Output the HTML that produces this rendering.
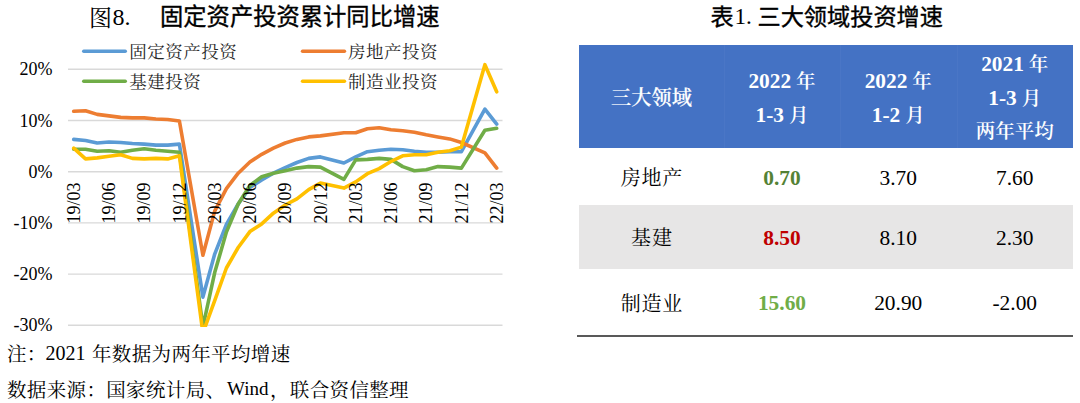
<!DOCTYPE html>
<html><head><meta charset="utf-8">
<style>
*{margin:0;padding:0;box-sizing:border-box}
html,body{width:1080px;height:403px;overflow:hidden;background:#fff}
body{position:relative;font-family:"Liberation Serif","Noto Serif CJK SC",serif;color:#000}
.a{position:absolute;white-space:nowrap}
#chart{position:absolute;left:0;top:0}
.hdr{position:absolute;left:579px;top:45px;width:494px;height:103px;background:#4472C4}
.vsep{position:absolute;top:0;width:1px;height:103px;background:#4A76C6}
.cell{position:absolute;display:flex;align-items:center;justify-content:center;text-align:center;white-space:nowrap}
.h{color:#fff;font-size:20.2px;line-height:34.5px;font-weight:600;-webkit-text-stroke:0.15px #fff}
.h b{font-family:"Liberation Serif",serif;font-weight:700;font-size:21.4px}
.hl{position:absolute;height:30px;line-height:30px;text-align:center;color:#fff;font-size:19.5px;font-weight:600;white-space:nowrap}
.hl b{font-family:"Liberation Serif",serif;font-weight:700;font-size:21.4px;-webkit-text-stroke:0}
.r{font-size:21.4px}
.r.c{font-size:20px;letter-spacing:0.8px;text-indent:0.8px}
.gray{position:absolute;left:579px;top:205px;width:494px;height:63.5px;background:#E7E6E6}
.rule{position:absolute;left:577px;top:335px;width:496px;height:2px;background:#595959}
</style></head><body>
<svg id="chart" width="1080" height="403" viewBox="0 0 1080 403">
<defs><clipPath id="pa"><rect x="60" y="0" width="450" height="327"/></clipPath></defs>
<g stroke="#D9D9D9" stroke-width="1.4"><line x1="68" x2="502.5" y1="69.3" y2="69.3"/><line x1="68" x2="502.5" y1="120.5" y2="120.5"/><line x1="68" x2="502.5" y1="171.7" y2="171.7"/><line x1="68" x2="502.5" y1="222.9" y2="222.9"/><line x1="68" x2="502.5" y1="274.1" y2="274.1"/><line x1="68" x2="502.5" y1="325.3" y2="325.3"/></g>
<g clip-path="url(#pa)" fill="none" stroke-width="3.6" stroke-linejoin="round" stroke-linecap="round"><polyline points="73.7,139.4 85.5,140.5 97.2,143.0 109.0,142.0 120.7,142.5 132.4,143.5 144.2,144.1 155.9,145.1 167.7,145.1 179.4,144.1 202.9,297.1 214.7,254.1 226.4,224.4 238.2,204.0 249.9,187.6 261.7,179.9 273.4,173.2 285.2,167.6 296.9,162.5 308.7,158.4 320.4,156.9 343.9,163.0 355.7,156.9 367.4,151.7 379.2,150.2 390.9,149.2 402.7,149.7 414.4,151.2 426.2,152.2 437.9,152.2 449.7,151.7 461.4,151.7 484.9,109.2 496.7,124.1" stroke="#5B9BD5"/><polyline points="73.7,111.3 85.5,110.8 97.2,114.4 109.0,115.9 120.7,117.4 132.4,117.9 144.2,117.9 155.9,119.0 167.7,119.5 179.4,121.0 202.9,255.2 214.7,211.1 226.4,188.6 238.2,173.2 249.9,162.0 261.7,154.3 273.4,148.1 285.2,143.0 296.9,139.4 308.7,136.9 320.4,135.9 343.9,132.8 355.7,132.8 367.4,128.7 379.2,127.7 390.9,129.7 402.7,130.7 414.4,132.3 426.2,134.8 437.9,136.9 449.7,138.9 461.4,142.5 484.9,152.8 496.7,168.1" stroke="#ED7D31"/><polyline points="73.7,149.2 85.5,149.2 97.2,151.2 109.0,150.7 120.7,152.2 132.4,150.2 144.2,148.7 155.9,150.2 167.7,151.2 179.4,152.2 202.9,326.8 214.7,272.6 226.4,232.1 238.2,204.0 249.9,185.5 261.7,176.8 273.4,173.2 285.2,170.7 296.9,168.1 308.7,166.6 320.4,167.1 343.9,179.4 355.7,159.9 367.4,159.4 379.2,158.4 390.9,159.4 402.7,166.6 414.4,170.7 426.2,169.7 437.9,166.6 449.7,167.1 461.4,168.1 484.9,130.2 496.7,128.2" stroke="#70AD47"/><polyline points="73.7,148.1 85.5,158.9 97.2,157.9 109.0,156.3 120.7,154.8 132.4,158.4 144.2,158.9 155.9,158.4 167.7,158.9 179.4,155.8 202.9,333.0 214.7,300.7 226.4,268.0 238.2,247.5 249.9,231.6 261.7,223.9 273.4,213.2 285.2,205.0 296.9,198.8 308.7,189.6 320.4,183.0 343.9,188.1 355.7,181.9 367.4,173.7 379.2,168.6 390.9,161.5 402.7,155.8 414.4,154.8 426.2,154.8 437.9,152.2 449.7,150.7 461.4,147.1 484.9,64.7 496.7,91.8" stroke="#FFC000"/></g>
<g font-family="Liberation Serif, serif" font-size="18" text-anchor="end" fill="#000"><text x="52.5" y="75.3">20%</text><text x="52.5" y="126.5">10%</text><text x="52.5" y="177.7">0%</text><text x="52.5" y="228.9">-10%</text><text x="52.5" y="280.1">-20%</text><text x="52.5" y="331.3">-30%</text></g>
<g font-family="Liberation Serif, serif" font-size="18" text-anchor="end" fill="#000"><text transform="translate(79.9,182.6) rotate(-90)">19/03</text><text transform="translate(115.2,182.6) rotate(-90)">19/06</text><text transform="translate(150.4,182.6) rotate(-90)">19/09</text><text transform="translate(185.6,182.6) rotate(-90)">19/12</text><text transform="translate(220.9,182.6) rotate(-90)">20/03</text><text transform="translate(256.1,182.6) rotate(-90)">20/06</text><text transform="translate(291.4,182.6) rotate(-90)">20/09</text><text transform="translate(326.6,182.6) rotate(-90)">20/12</text><text transform="translate(361.9,182.6) rotate(-90)">21/03</text><text transform="translate(397.1,182.6) rotate(-90)">21/06</text><text transform="translate(432.4,182.6) rotate(-90)">21/09</text><text transform="translate(467.6,182.6) rotate(-90)">21/12</text><text transform="translate(502.9,182.6) rotate(-90)">22/03</text></g>
<g stroke-width="3.4" stroke-linecap="round">
<line x1="83.7" x2="125.3" y1="51.2" y2="51.2" stroke="#5B9BD5"/>
<line x1="83.7" x2="125.3" y1="81.3" y2="81.3" stroke="#70AD47"/>
<line x1="302.5" x2="344.5" y1="51.2" y2="51.2" stroke="#ED7D31"/>
<line x1="302.5" x2="344.5" y1="81.3" y2="81.3" stroke="#FFC000"/>
</g>
</svg>
<div class="a" style="left:89px;top:6.5px;font-size:23px;line-height:23px;font-family:'Liberation Serif','Noto Serif CJK SC',serif;font-weight:400;color:#000;">图</div><div class="a" style="left:112.6px;top:5px;font-size:24px;line-height:24px;font-family:'Liberation Serif','Noto Serif CJK SC',serif;font-weight:400;color:#000;">8.</div><div class="a" style="left:160px;top:5.5px;font-size:23.3px;line-height:23.3px;font-family:'Liberation Sans','Noto Sans CJK SC',sans-serif;font-weight:400;color:#000;-webkit-text-stroke:0.35px #000;">固定资产投资累计同比增速</div><div class="a" style="left:129.2px;top:43.5px;font-size:17.5px;line-height:17.5px;font-family:'Liberation Serif','Noto Serif CJK SC',serif;font-weight:400;color:#262626;letter-spacing:0.5px;">固定资产投资</div><div class="a" style="left:129.2px;top:73.5px;font-size:17.5px;line-height:17.5px;font-family:'Liberation Serif','Noto Serif CJK SC',serif;font-weight:400;color:#262626;letter-spacing:0.5px;">基建投资</div><div class="a" style="left:348px;top:43.5px;font-size:17.5px;line-height:17.5px;font-family:'Liberation Serif','Noto Serif CJK SC',serif;font-weight:400;color:#262626;letter-spacing:0.5px;">房地产投资</div><div class="a" style="left:348px;top:73.5px;font-size:17.5px;line-height:17.5px;font-family:'Liberation Serif','Noto Serif CJK SC',serif;font-weight:400;color:#262626;letter-spacing:0.5px;">制造业投资</div><div class="a" style="left:7px;top:345px;font-size:19.5px;line-height:19.5px;font-family:'Liberation Serif','Noto Serif CJK SC',serif;font-weight:400;color:#000;letter-spacing:0.35px;">注：</div><div class="a" style="left:45.5px;top:343px;font-size:20px;line-height:20px;font-family:'Liberation Serif','Noto Serif CJK SC',serif;font-weight:400;color:#000;">2021</div><div class="a" style="left:92px;top:345px;font-size:19.5px;line-height:19.5px;font-family:'Liberation Serif','Noto Serif CJK SC',serif;font-weight:400;color:#000;letter-spacing:0.35px;">年数据为两年平均增速</div><div class="a" style="left:7px;top:380.5px;font-size:19.5px;line-height:19.5px;font-family:'Liberation Serif','Noto Serif CJK SC',serif;font-weight:400;color:#000;letter-spacing:0.35px;">数据来源：国家统计局、</div><div class="a" style="left:227px;top:378.5px;font-size:19px;line-height:19px;font-family:'Liberation Serif','Noto Serif CJK SC',serif;font-weight:400;color:#000;">Wind</div><div class="a" style="left:270px;top:380.5px;font-size:19.5px;line-height:19.5px;font-family:'Liberation Serif','Noto Serif CJK SC',serif;font-weight:400;color:#000;letter-spacing:0.35px;">，联合资信整理</div><div class="a" style="left:710.5px;top:5.5px;font-size:23.2px;line-height:23.2px;font-family:'Liberation Sans','Noto Sans CJK SC',sans-serif;font-weight:400;color:#000;-webkit-text-stroke:0.35px #000;">表</div><div class="a" style="left:734.5px;top:5px;font-size:23.2px;line-height:23.2px;font-family:'Liberation Serif','Noto Serif CJK SC',serif;font-weight:400;color:#000;">1.</div><div class="a" style="left:757.5px;top:5.5px;font-size:23.2px;line-height:23.2px;font-family:'Liberation Sans','Noto Sans CJK SC',sans-serif;font-weight:400;color:#000;-webkit-text-stroke:0.35px #000;">三大领域投资增速</div>
<div class="hdr">
 <div class="vsep" style="left:145px"></div><div class="vsep" style="left:261px"></div><div class="vsep" style="left:377.5px"></div>
 <div class="cell h" style="left:0;top:2px;width:145px;height:103px">三大领域</div>
 <div class="hl" style="left:145px;top:20.5px;width:116px"><b>2022</b> 年</div>
 <div class="hl" style="left:145px;top:54.5px;width:116px"><b>1-3</b> 月</div>
 <div class="hl" style="left:261px;top:20.5px;width:116.5px"><b>2022</b> 年</div>
 <div class="hl" style="left:261px;top:54.5px;width:116.5px"><b>1-2</b> 月</div>
 <div class="hl" style="left:377.5px;top:3.5px;width:116.5px"><b>2021</b> 年</div>
 <div class="hl" style="left:377.5px;top:38px;width:116.5px"><b>1-3</b> 月</div>
 <div class="hl" style="left:377.5px;top:71.5px;width:116.5px">两年平均</div>
</div>
<div class="gray"></div>
<div class="cell r c" style="left:579px;top:148px;width:145px;height:57px">房地产</div>
<div class="cell r" style="left:724px;top:149.5px;width:116px;height:57px;color:#548235;font-weight:700">0.70</div>
<div class="cell r" style="left:840px;top:149.5px;width:116.5px;height:57px">3.70</div>
<div class="cell r" style="left:956.5px;top:149.5px;width:116.5px;height:57px">7.60</div>
<div class="cell r c" style="left:579px;top:205px;width:145px;height:63.5px">基建</div>
<div class="cell r" style="left:724px;top:207px;width:116px;height:63.5px;color:#C00000;font-weight:700">8.50</div>
<div class="cell r" style="left:840px;top:207px;width:116.5px;height:63.5px">8.10</div>
<div class="cell r" style="left:956.5px;top:207px;width:116.5px;height:63.5px">2.30</div>
<div class="cell r c" style="left:579px;top:268.5px;width:145px;height:67px">制造业</div>
<div class="cell r" style="left:724px;top:269.5px;width:116px;height:67px;color:#70AD47;font-weight:700">15.60</div>
<div class="cell r" style="left:840px;top:269.5px;width:116.5px;height:67px">20.90</div>
<div class="cell r" style="left:956.5px;top:269.5px;width:116.5px;height:67px">-2.00</div>
<div class="rule"></div>
</body></html>
